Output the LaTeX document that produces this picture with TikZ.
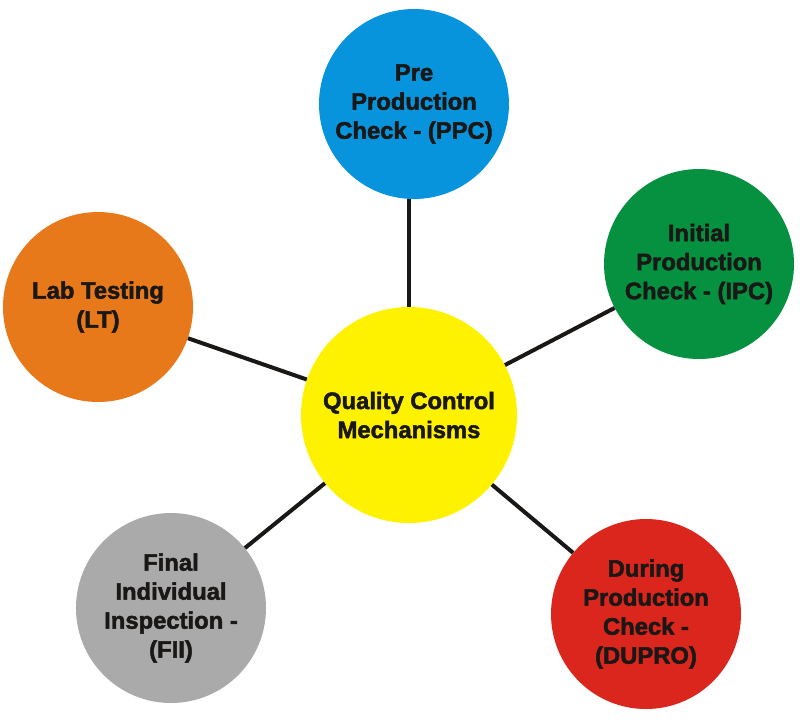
\documentclass[tikz,border=0pt]{standalone}
\usepackage{fontspec}
\setmainfont{Liberation Sans}[BoldFeatures={FakeBold=2}]
\usepackage{tikz}
\usetikzlibrary{positioning}
\definecolor{ppcblue}{RGB}{8,148,220}
\definecolor{ipcgreen}{RGB}{6,145,64}
\definecolor{ltorange}{RGB}{232,121,26}
\definecolor{fiigray}{RGB}{170,170,170}
\definecolor{duprored}{RGB}{218,38,28}
\definecolor{hubyellow}{RGB}{255,242,0}
\definecolor{inkblack}{RGB}{26,24,22}

\begin{document}
\begin{tikzpicture}[x=1pt, y=-1pt,
    bubble/.style={circle, inner sep=0pt, minimum size=190pt, align=center,
      text=inkblack, font=\bfseries\fontsize{23.8}{29}\selectfont},
    link/.style={line width=4pt, inkblack}]
    \useasboundingbox (0, 0) rectangle (800, 721);

    % Hub
    \node[bubble, fill=hubyellow, minimum size=216pt] (qcm) at (409, 415) {Quality Control\\Mechanisms};

    % Checks
    \node[bubble, fill=ppcblue] (ppc) at (414, 104) {Pre\\Production\\Check - (PPC)};
    \node[bubble, fill=ipcgreen] (ipc) at (699, 264) {Initial\\Production\\Check - (IPC)};
    \node[bubble, fill=duprored] (dupro) at (646, 614) {During\\Production\\Check -\\(DUPRO)};
    \node[bubble, fill=fiigray] (fii) at (171, 608) {Final\\Individual\\Inspection -\\(FII)};
    \node[bubble, fill=ltorange] (lt) at (98, 307) {Lab Testing\\(LT)};

    % Links
    \draw[link] (qcm.90) -- (qcm.90 |- ppc.270);
    \draw[link] (qcm) -- (ipc);
    \draw[link] (qcm) -- (dupro);
    \draw[link] (qcm) -- (fii);
    \draw[link] (qcm) -- (lt);
\end{tikzpicture}
\end{document}
